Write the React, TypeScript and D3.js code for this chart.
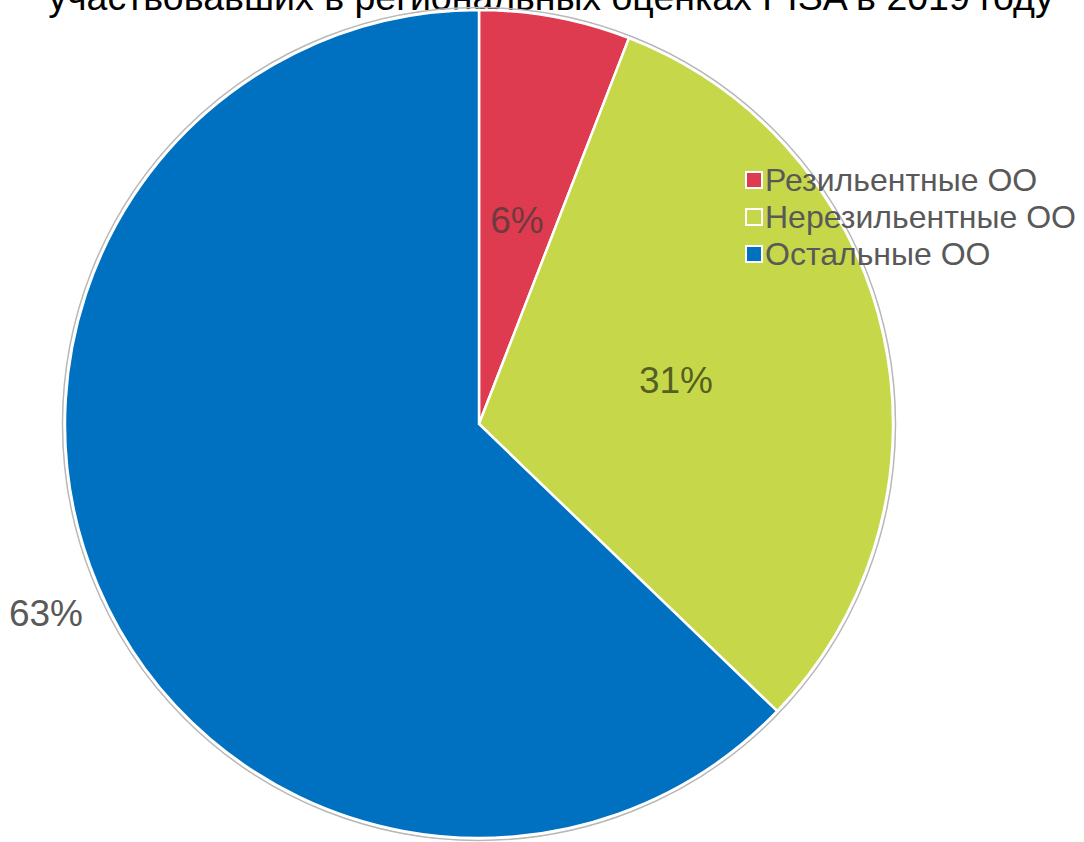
import React from "react";
import * as d3 from "d3";

const categories = ["Резильентные ОО", "Нерезильентные ОО", "Остальные ОО"];
const values = [5.9, 31.3, 62.8];
const labels = ["6%", "31%", "63%"];
const colors = ["#de3a50", "#c6d84a", "#0070c0"];
const titleText = "участвовавших в региональных оценках PISA в 2019 году";

export default function App() {
  const W = 1084, H = 842;
  const cx = 479, cy = 424, r = 414;
  const pie = d3.pie<number>().sort(null).value((d) => d);
  const arcs = pie(values);
  const arc = d3.arc<d3.PieArcDatum<number>>().innerRadius(0).outerRadius(r);
  const labelPos: [number, number][] = [
    [517, 233],
    [676, 393],
    [46, 626],
  ];
  const labelFill = ["#5a3a3a", "#3f4a1a", "#595959"];
  return (
    <svg width={W} height={H} style={{ position: "absolute", left: 0, top: 0, background: "#fff" }}>
      <text x={551} y={10} textAnchor="middle" fontFamily="Liberation Sans, Arial" fontSize={37.5} fill="#000">
        {titleText}
      </text>
      <circle cx={cx} cy={cy} r={r + 2.5} fill="none" stroke="#b8b8b8" strokeWidth={1.5} />
      <g transform={`translate(${cx},${cy})`}>
        {arcs.map((a, i) => (
          <path key={i} d={arc(a) || ""} fill={colors[i]} stroke="#fff" strokeWidth={2.5} />
        ))}
      </g>
      {labels.map((l, i) => (
        <text key={i} x={labelPos[i][0]} y={labelPos[i][1]} textAnchor="middle" fontFamily="Liberation Sans, Arial" fontSize={37} fill={labelFill[i]} fillOpacity={i < 2 ? 0.85 : 1}>
          {l}
        </text>
      ))}
      {categories.map((c, i) => (
        <g key={c} transform={`translate(746, ${180 + i * 37})`}>
          <rect x={0} y={-8} width={16} height={16} fill={colors[i]} stroke="#fff" strokeWidth={2} />
          <text x={19} y={11} fontFamily="Liberation Sans, Arial" fontSize={32} fill="#595959">
            {c}
          </text>
        </g>
      ))}
    </svg>
  );
}
